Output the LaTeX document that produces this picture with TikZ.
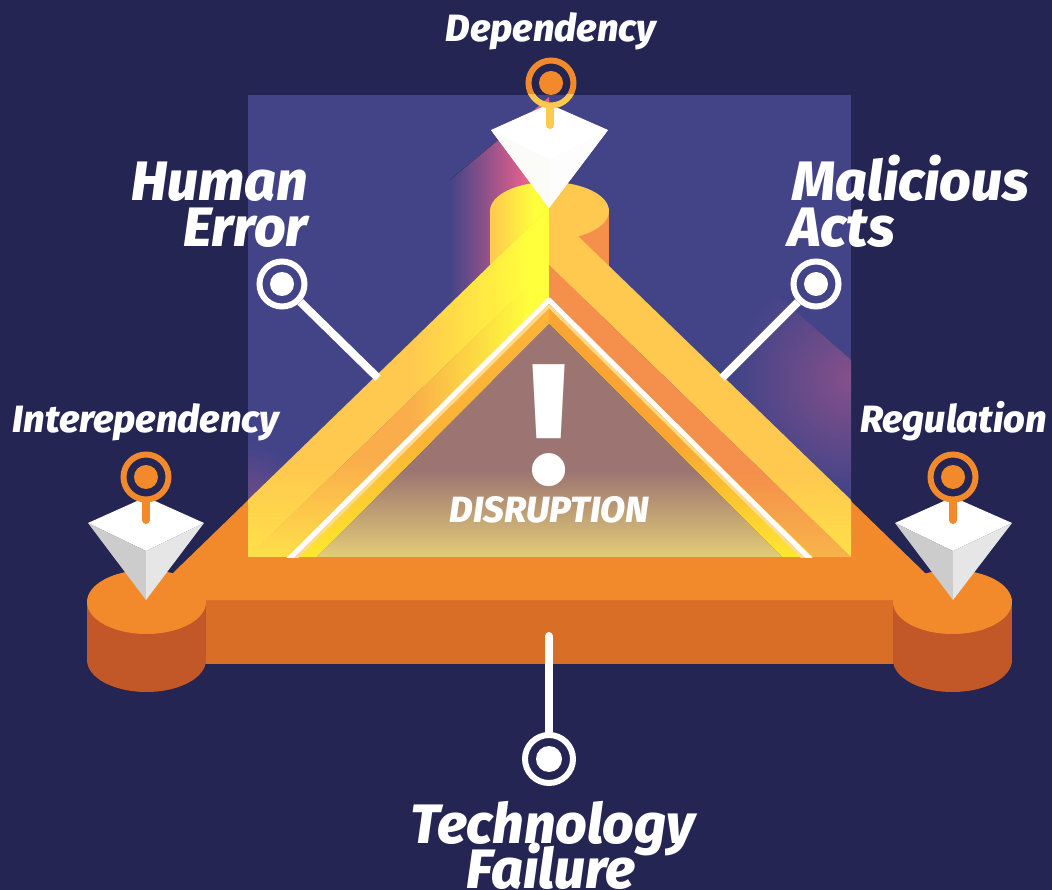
\documentclass[tikz,border=0pt]{standalone}
\usepackage{fontspec}
\setmainfont{Fira Sans}
\newfontfamily\heavyf{Fira Sans ExtraBold}
\usetikzlibrary{fadings}
\definecolor{bgc}{HTML}{242552}
\definecolor{panelc}{HTML}{434488}
\definecolor{orangec}{HTML}{F28A2B}
\definecolor{frontc}{HTML}{D96E27}
\definecolor{sidec}{HTML}{C25728}
\definecolor{goldc}{HTML}{FFC84F}
\definecolor{peachc}{HTML}{F48F4C}
\definecolor{ambera}{HTML}{F8A533}
\definecolor{amberb}{HTML}{FBB338}
\definecolor{amberc}{HTML}{FAAE4B}
\definecolor{glowc}{HTML}{FFFF3C}
\definecolor{pinkc}{HTML}{E4608C}
\definecolor{mauvec}{HTML}{85508A}
\definecolor{creamc}{HTML}{FFD98C}
\definecolor{innerc}{HTML}{9C7472}
\definecolor{sandc}{HTML}{E4CC78}
\definecolor{lemonc}{HTML}{FFE04A}
\definecolor{lemond}{HTML}{FFE830}
\definecolor{lemone}{HTML}{F9B44A}
\definecolor{faceb}{HTML}{FBFBF7}
\definecolor{facec}{HTML}{FDFDFD}
\definecolor{faced}{HTML}{CCCCCC}
\definecolor{facee}{HTML}{E6E6E6}
\tikzfading[name=fadeeast, left color=transparent!100, right color=transparent!0]
\tikzfading[name=fadesouth, top color=transparent!100, bottom color=transparent!0]
\tikzset{
  lbl/.style={text=white, inner sep=0pt},
  big/.style={lbl, font=\fontsize{55.5}{55.5}\selectfont\heavyf\itshape},
  small/.style={lbl, font=\fontsize{38}{38}\selectfont\heavyf\itshape},
  pinring/.style={circle, draw=#1, line width=6pt, minimum size=45pt, inner sep=0pt},
  pindot/.style={circle, fill=#1, minimum size=24pt, inner sep=0pt},
  stem/.style={draw=#1, line width=8pt, line cap=round},
  whiteline/.style={draw=white, line width=8pt},
}
\begin{document}
\begin{tikzpicture}[x=1pt,y=-1pt]
\useasboundingbox (0,0) rectangle (1052,890);
\fill[bgc] (0,0) rectangle (1052,890);
% base body
\fill[frontc] (146,600) rectangle (953,664);
\fill[orangec] (549,208) -- (173,573) -- (146,600) -- (953,600) -- (925,573) -- cycle;
% side cylinders
\fill[sidec] (87,602) rectangle (206,660);
\fill[sidec] (146.5,660) ellipse[x radius=59.5,y radius=32];
\fill[orangec] (146.5,602) ellipse[x radius=59.5,y radius=32];
\fill[sidec] (893,602) rectangle (1012,660);
\fill[sidec] (952.5,660) ellipse[x radius=59.5,y radius=32];
\fill[orangec] (952.5,602) ellipse[x radius=59.5,y radius=32];
% translucent panel
\fill[panelc] (248,95) rectangle (851,557);
% pink glows
\fill[left color=panelc, right color=pinkc] (450,180) -- (525,118) -- (525,300) -- (450,400) -- cycle;
\fill[pinkc] (525,118) -- (549,97) -- (549,300) -- (525,300) -- cycle;
\begin{scope}
  \clip (720,245) -- (851,360) -- (851,500) -- (640,300) -- cycle;
  \shade[inner color=mauvec, outer color=panelc] (851,378) circle[radius=115];
\end{scope}
\begin{scope}
  \clip (248,440) rectangle (300,500);
  \shade[inner color=mauvec!70!panelc, outer color=panelc] (248,505) circle[radius=60];
\end{scope}
% top cylinder
\fill[peachc] (549,211) rectangle (609,300);
\fill[left color=goldc, right color=glowc] (490,211) rectangle (535,300);
\fill[glowc] (534,211) rectangle (549,300);
\begin{scope}
  \clip (549,170) rectangle (620,250);
  \fill[goldc] (549.5,211) ellipse[x radius=59.5,y radius=29];
\end{scope}
\begin{scope}
  \clip (549.5,211) ellipse[x radius=59.5,y radius=29];
  \shade[left color=goldc, right color=glowc] (490,182) rectangle (535,240);
  \fill[glowc] (534,182) rectangle (549,240);
\end{scope}
% right bands
\fill[goldc] (549,208) -- (851,500) -- (851,557) -- (549,265) -- cycle;
\fill[peachc] (549,265) -- (851,557) -- (813,557) -- (549,300) -- cycle;
\fill[ambera] (549,300) -- (813,557) -- (782,557) -- (549,324) -- cycle;
\begin{scope}
  \clip (549,208) -- (851,500) -- (851,557) -- (549,265) -- cycle;
  \fill[lemonc, path fading=fadesouth] (600,470) rectangle (851,557);
\end{scope}
\begin{scope}
  \clip (549,265) -- (851,557) -- (813,557) -- (549,300) -- cycle;
  \fill[lemone, path fading=fadesouth] (600,470) rectangle (851,557);
\end{scope}
% left bands
\fill[goldc] (549,208) -- (248,500) -- (248,557) -- (549,265) -- cycle;
\fill[amberc] (549,265) -- (248,557) -- (286,557) -- (549,300) -- cycle;
\fill[amberb] (549,300) -- (286,557) -- (317,557) -- (549,324) -- cycle;
\begin{scope}
  \clip (549,208) -- (248,500) -- (248,557) -- (286,557) -- (549,300) -- cycle;
  \fill[glowc, path fading=fadeeast] (410,200) rectangle (530,420);
  \fill[glowc] (529,200) rectangle (549,420);
  \fill[lemonc, path fading=fadesouth] (248,460) rectangle (549,557);
\end{scope}
\begin{scope}
  \clip (549,300) -- (286,557) -- (813,557) -- cycle;
  \fill[lemond, path fading=fadesouth] (248,440) rectangle (851,557);
\end{scope}
% inner triangle
\fill[innerc] (549,324) -- (317,557) -- (782,557) -- cycle;
\begin{scope}
  \clip (549,324) -- (317,557) -- (782,557) -- cycle;
  \shade[top color=innerc, bottom color=sandc] (300,470) rectangle (800,557);
\end{scope}
% white stripe
\begin{scope}
  \clip (248,95) rectangle (851,557);
  \draw[creamc, line width=3pt, line join=round] (291,563) -- (549,306) -- (808,563);
  \draw[white, line width=5pt, line join=round] (285,563) -- (549,300) -- (814,563);
\end{scope}
% exclamation and caption
\node[text=white, inner sep=0pt, font=\fontsize{171}{171}\selectfont\heavyf, anchor=base] (bang) at (549,483) {!};
\node[lbl, font=\fontsize{36.5}{36.5}\selectfont\heavyf\itshape, anchor=base] (disr) at (549.5,522) {DISRUPTION};
% top pyramid and pin
\fill[white] (491,130) -- (549,104) -- (608,130) -- (549,208) -- cycle;
\fill[faceb] (491,130) -- (549,160) -- (549,208) -- cycle;
\fill[facec] (608,130) -- (549,160) -- (549,208) -- cycle;
\begin{scope}
  \clip (500,55) rectangle (600,95);
  \node[pinring=orangec] (depring) at (551,83) {};
\end{scope}
\begin{scope}
  \clip (500,95) rectangle (600,115);
  \node[pinring=goldc] (depringb) at (551,83) {};
\end{scope}
\node[pindot=orangec] (depdot) at (551,83) {};
\coordinate (depend) at (550,125);
\coordinate (depstart) at (550,108);
\draw[stem=goldc] (depstart) -- (depend);
% left pyramid and pin
\fill[white] (88,523) -- (146,497) -- (204,523) -- (146,551) -- cycle;
\fill[faced] (88,523) -- (146,551) -- (146,600) -- cycle;
\fill[facee] (204,523) -- (146,551) -- (146,600) -- cycle;
\node[pinring=orangec] (lring) at (146,477) {};
\node[pindot=orangec] (ldot) at (146,477) {};
\coordinate (lend) at (146,520);
\draw[stem=orangec] (lring) -- (lend);
% right pyramid and pin
\fill[white] (895,523) -- (953,497) -- (1012,523) -- (953,551) -- cycle;
\fill[faced] (895,523) -- (953,551) -- (953,600) -- cycle;
\fill[facee] (1012,523) -- (953,551) -- (953,600) -- cycle;
\node[pinring=orangec] (rring) at (953,477) {};
\node[pindot=orangec] (rdot) at (953,477) {};
\coordinate (rend) at (953,520);
\draw[stem=orangec] (rring) -- (rend);
% white pins
\node[pinring=white] (hering) at (282,284) {};
\node[pindot=white] (hedot) at (282,284) {};
\coordinate (heend) at (378,378);
\draw[whiteline] (hering) -- (heend);
\node[pinring=white] (maring) at (816,284) {};
\node[pindot=white] (madot) at (816,284) {};
\coordinate (maend) at (722,378);
\draw[whiteline] (maring) -- (maend);
\node[pinring=white, minimum size=48pt] (tfring) at (549,759) {};
\node[pindot=white, minimum size=26pt] (tfdot) at (549,759) {};
\coordinate (tfend) at (549,636);
\draw[stem=white] (tfend) -- (tfring);
% labels
\node[small, anchor=base] (t1) at (551,42) {Dependency};
\node[big, anchor=base east] (t2) at (308,201) {Human};
\node[big, anchor=base east] (t3) at (308,247) {Error};
\node[big, anchor=base west] (t4) at (792,201) {Malicious};
\node[big, anchor=base west] (t5) at (788,247) {Acts};
\node[small, anchor=base] (t6) at (146,432) {Interependency};
\node[small, anchor=base] (t7) at (953.5,432) {Regulation};
\node[big, anchor=base] (t8) at (553,843) {Technology};
\node[big, anchor=base] (t9) at (551,888) {Failure};
\end{tikzpicture}
\end{document}
